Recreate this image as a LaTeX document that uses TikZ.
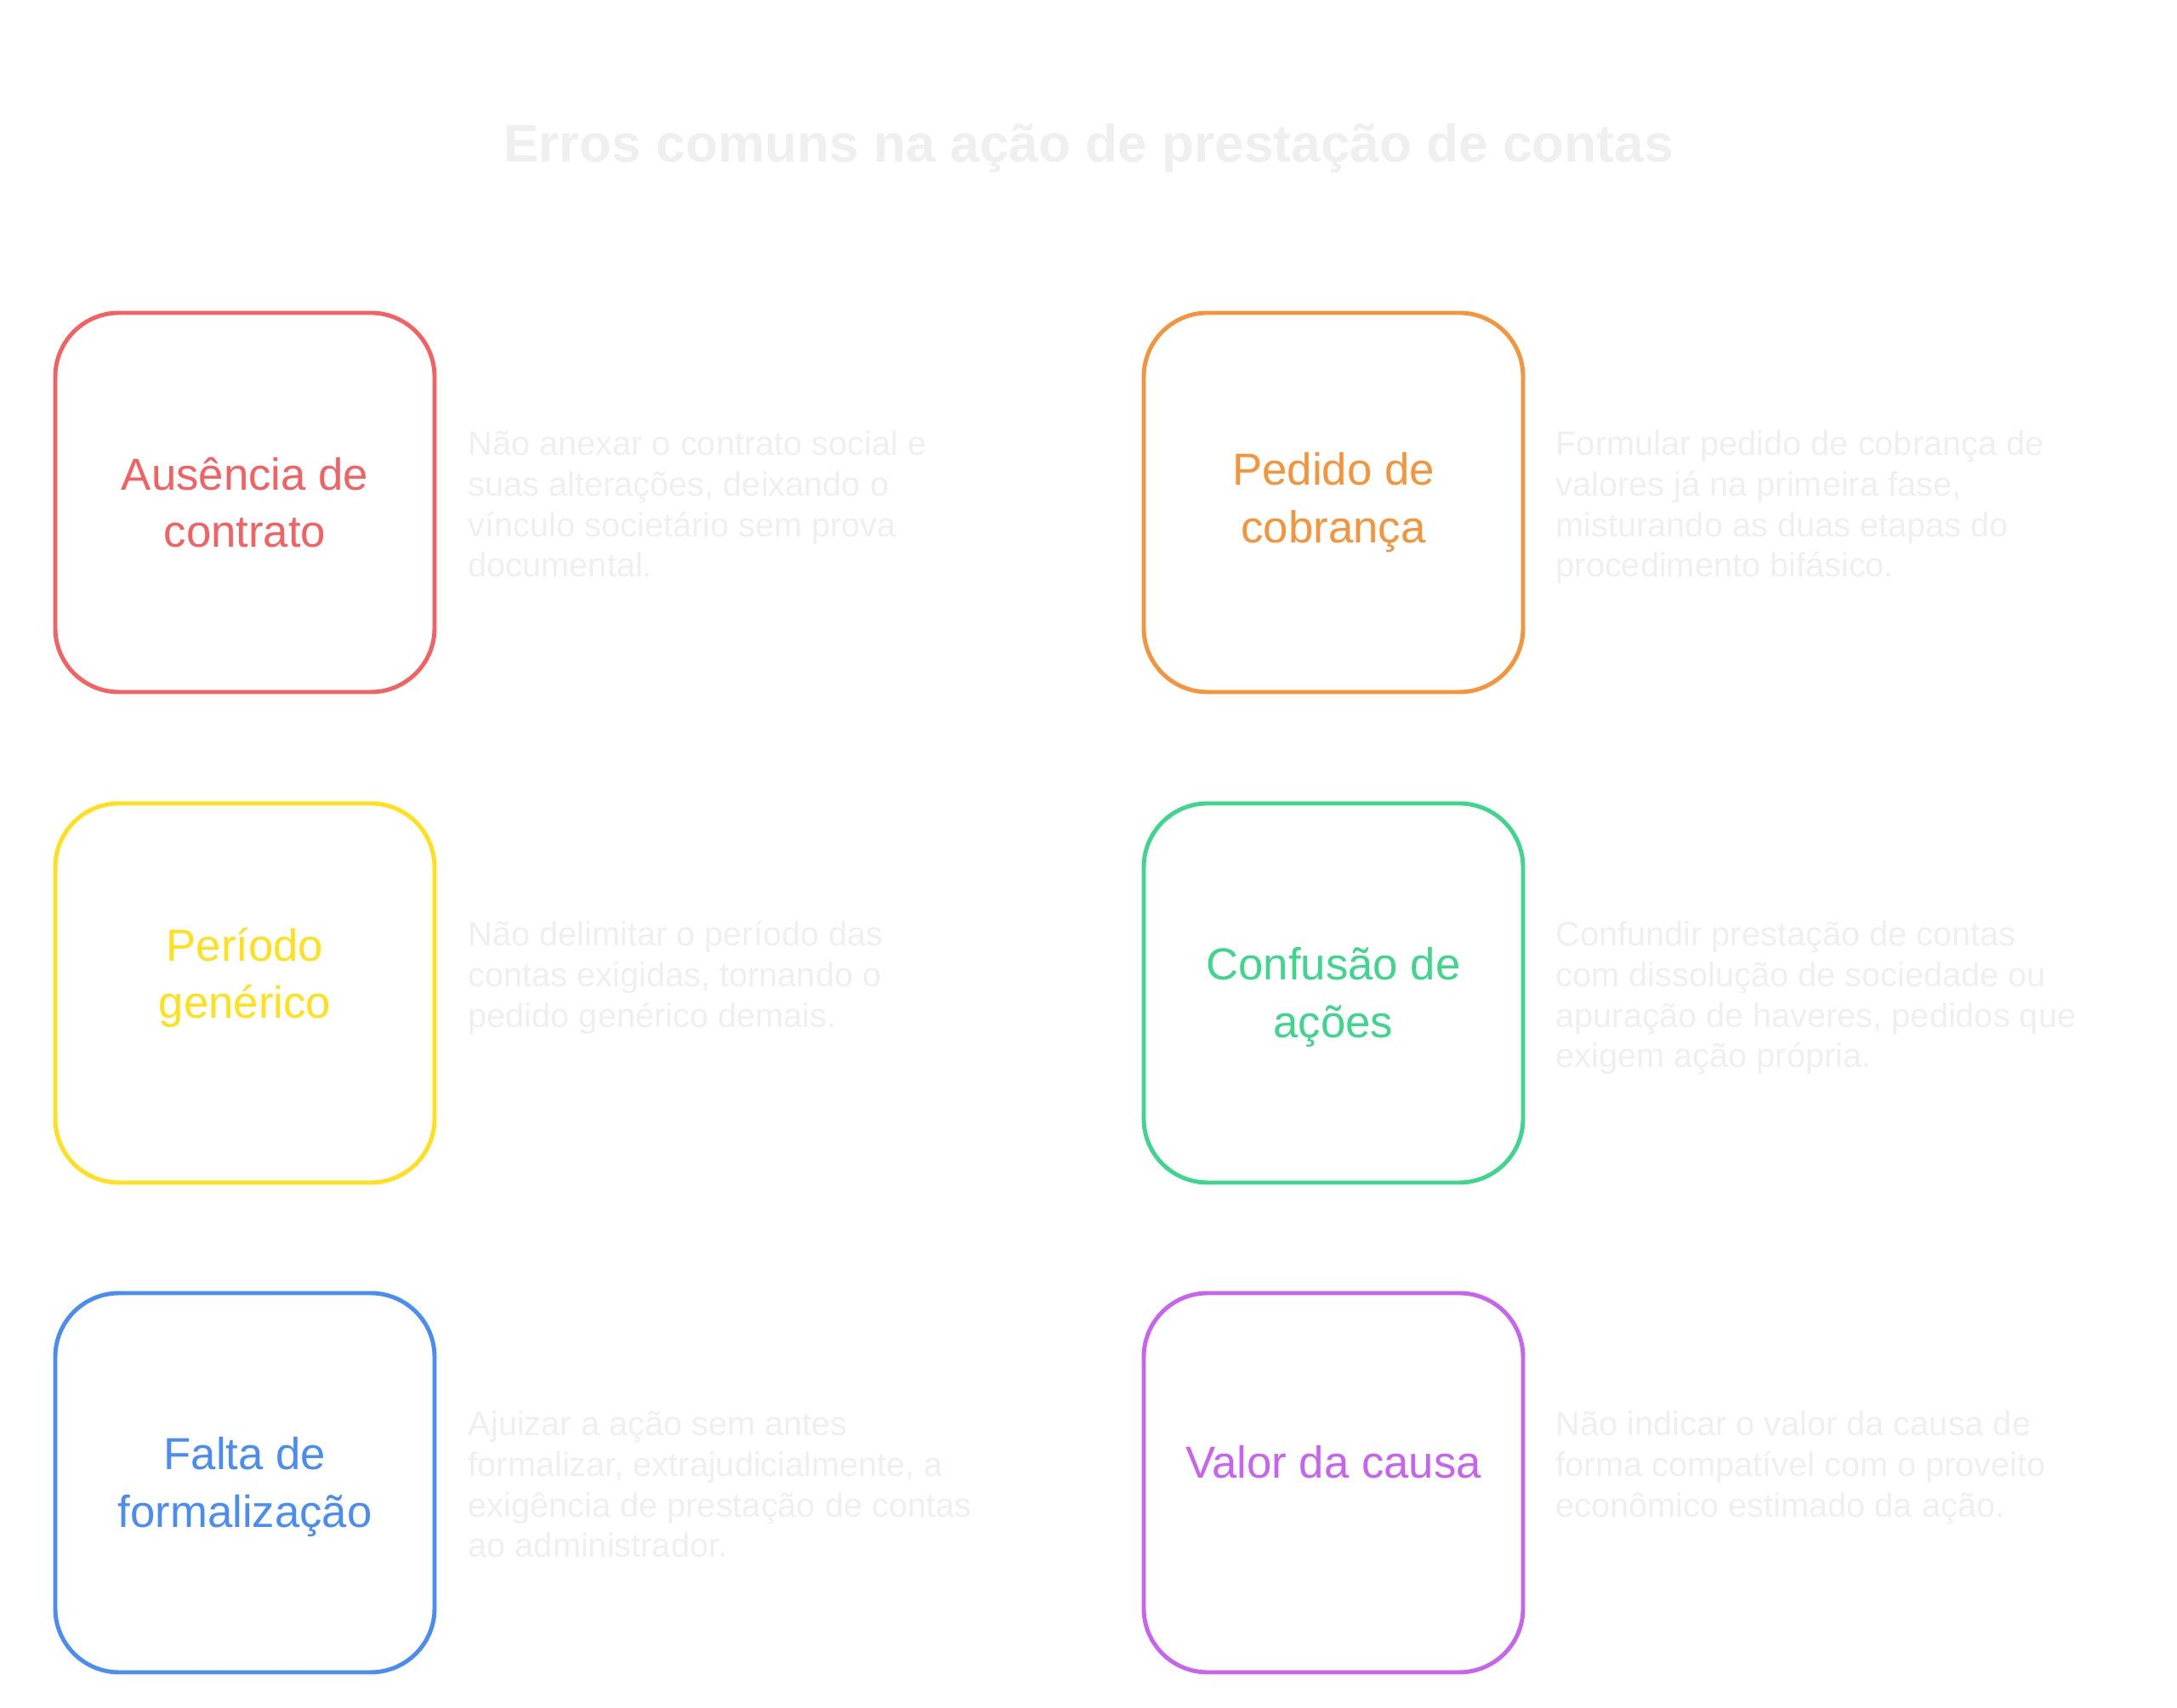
\documentclass[tikz,border=0pt]{standalone}
\usepackage{fontspec}
\setmainfont{Liberation Sans}
\usetikzlibrary{positioning}
\definecolor{errred}{HTML}{F56062}
\definecolor{errorange}{HTML}{F5943A}
\definecolor{erryellow}{HTML}{FFE01A}
\definecolor{errgreen}{HTML}{3DD68C}
\definecolor{errblue}{HTML}{4A8CF5}
\definecolor{errpurple}{HTML}{C862F2}
\definecolor{faint}{HTML}{EFEFEF}
\begin{document}
\begin{tikzpicture}
    % Setup the styles
        \tikzset{box style/.style={draw, rounded corners=0.75cm,
                                    line width=1.4pt,
                                    minimum width=4.46cm, minimum height=4.46cm},
                 label style/.style={align=center, font=\fontsize{15}{19.2}\selectfont},
                 desc style/.style={anchor=north west, align=left, text=faint,
                                    inner sep=0pt,
                                    font=\fontsize{11.3}{13.6}\selectfont}}
        \useasboundingbox (0,0) rectangle (25.6,20.09);
        % Title
        \node[text=faint, font=\bfseries\fontsize{17.7}{22}\selectfont] (title) at (12.8,18.35)
            {Erros comuns na ação de prestação de contas};
        % Draw the boxes
        \node[box style, draw=errred]    at (2.88,14.18)  (contrato) {};
        \node[box style, draw=errorange] at (15.68,14.18) (cobranca) {};
        \node[box style, draw=erryellow] at (2.88,8.41)   (periodo)  {};
        \node[box style, draw=errgreen]  at (15.68,8.41)  (confusao) {};
        \node[box style, draw=errblue]   at (2.88,2.65)   (formal)   {};
        \node[box style, draw=errpurple] at (15.68,2.65)  (valor)    {};
        % Labels inside the boxes
        \node[label style, text=errred]    at (contrato.center)            (contrato_l) {Ausência de\\contrato};
        \node[label style, text=errorange] at (cobranca.center)            (cobranca_l) {Pedido de\\cobrança};
        \node[label style, text=erryellow] at ([yshift=0.18cm]periodo.center)  (periodo_l)  {Período\\genérico};
        \node[label style, text=errgreen]  at ([yshift=-0.05cm]confusao.center) (confusao_l) {Confusão de\\ações};
        \node[label style, text=errblue]   at ([yshift=-0.05cm]formal.center)   (formal_l)   {Falta de\\formalização};
        \node[label style, text=errpurple] at ([yshift=0.24cm]valor.center)     (valor_l)    {Valor da causa};
        % Descriptions
        \node[desc style] at (5.50,15.03) (contrato_d) {Não anexar o contrato social e\\suas alterações, deixando o\\vínculo societário sem prova\\documental.};
        \node[desc style] at (18.29,15.03) (cobranca_d) {Formular pedido de cobrança de\\valores já na primeira fase,\\misturando as duas etapas do\\procedimento bifásico.};
        \node[desc style] at (5.50,9.26) (periodo_d) {Não delimitar o período das\\contas exigidas, tornando o\\pedido genérico demais.};
        \node[desc style] at (18.29,9.26) (confusao_d) {Confundir prestação de contas\\com dissolução de sociedade ou\\apuração de haveres, pedidos que\\exigem ação própria.};
        \node[desc style] at (5.50,3.50) (formal_d) {Ajuizar a ação sem antes\\formalizar, extrajudicialmente, a\\exigência de prestação de contas\\ao administrador.};
        \node[desc style] at (18.29,3.50) (valor_d) {Não indicar o valor da causa de\\forma compatível com o proveito\\econômico estimado da ação.};
\end{tikzpicture}
\end{document}
